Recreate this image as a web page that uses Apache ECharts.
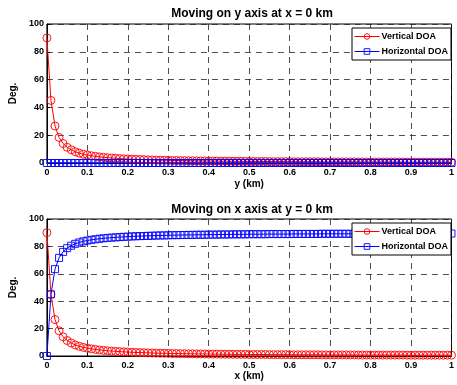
<!DOCTYPE html>
<html>
<head>
<meta charset="utf-8">
<script src="https://cdn.jsdelivr.net/npm/echarts@6/dist/echarts.min.js"></script>
<style>
  html, body { margin: 0; padding: 0; background: #fff; }
  #main { width: 457px; height: 385px; }
</style>
</head>
<body>
<div id="main"></div>
<script>
// position along the axis, km (0 .. 1 every 0.01)
var xs = [
  0, 0.01, 0.02, 0.03, 0.04, 0.05, 0.06, 0.07, 0.08, 0.09,
  0.10, 0.11, 0.12, 0.13, 0.14, 0.15, 0.16, 0.17, 0.18, 0.19,
  0.20, 0.21, 0.22, 0.23, 0.24, 0.25, 0.26, 0.27, 0.28, 0.29,
  0.30, 0.31, 0.32, 0.33, 0.34, 0.35, 0.36, 0.37, 0.38, 0.39,
  0.40, 0.41, 0.42, 0.43, 0.44, 0.45, 0.46, 0.47, 0.48, 0.49,
  0.50, 0.51, 0.52, 0.53, 0.54, 0.55, 0.56, 0.57, 0.58, 0.59,
  0.60, 0.61, 0.62, 0.63, 0.64, 0.65, 0.66, 0.67, 0.68, 0.69,
  0.70, 0.71, 0.72, 0.73, 0.74, 0.75, 0.76, 0.77, 0.78, 0.79,
  0.80, 0.81, 0.82, 0.83, 0.84, 0.85, 0.86, 0.87, 0.88, 0.89,
  0.90, 0.91, 0.92, 0.93, 0.94, 0.95, 0.96, 0.97, 0.98, 0.99, 1.00
];

// vertical DOA (deg), same curve on both plots
var vertDoa = [
  90, 45, 26.6, 18.4, 14.0, 11.3, 9.5, 8.1, 7.1, 6.3,
  5.7, 5.2, 4.8, 4.4, 4.1, 3.8, 3.6, 3.4, 3.2, 3.0,
  2.9, 2.7, 2.6, 2.5, 2.4, 2.3, 2.2, 2.1, 2.0, 2.0,
  1.9, 1.8, 1.8, 1.7, 1.7, 1.6, 1.6, 1.5, 1.5, 1.5,
  1.4, 1.4, 1.4, 1.3, 1.3, 1.3, 1.2, 1.2, 1.2, 1.2,
  1.1, 1.1, 1.1, 1.1, 1.1, 1.0, 1.0, 1.0, 1.0, 1.0,
  1.0, 0.9, 0.9, 0.9, 0.9, 0.9, 0.9, 0.9, 0.8, 0.8,
  0.8, 0.8, 0.8, 0.8, 0.8, 0.8, 0.8, 0.7, 0.7, 0.7,
  0.7, 0.7, 0.7, 0.7, 0.7, 0.7, 0.7, 0.7, 0.7, 0.6,
  0.6, 0.6, 0.6, 0.6, 0.6, 0.6, 0.6, 0.6, 0.6, 0.6, 0.6
];

// horizontal DOA moving on y axis: flat at 0
var horizDoaY = [
  0, 0, 0, 0, 0, 0, 0, 0, 0, 0,
  0, 0, 0, 0, 0, 0, 0, 0, 0, 0,
  0, 0, 0, 0, 0, 0, 0, 0, 0, 0,
  0, 0, 0, 0, 0, 0, 0, 0, 0, 0,
  0, 0, 0, 0, 0, 0, 0, 0, 0, 0,
  0, 0, 0, 0, 0, 0, 0, 0, 0, 0,
  0, 0, 0, 0, 0, 0, 0, 0, 0, 0,
  0, 0, 0, 0, 0, 0, 0, 0, 0, 0,
  0, 0, 0, 0, 0, 0, 0, 0, 0, 0,
  0, 0, 0, 0, 0, 0, 0, 0, 0, 0, 0
];

// horizontal DOA moving on x axis
var horizDoaX = [
  0, 45, 63.4, 71.6, 76.0, 78.7, 80.5, 81.9, 82.9, 83.7,
  84.3, 84.8, 85.2, 85.6, 85.9, 86.2, 86.4, 86.6, 86.8, 87.0,
  87.1, 87.3, 87.4, 87.5, 87.6, 87.7, 87.8, 87.9, 88.0, 88.0,
  88.1, 88.2, 88.2, 88.3, 88.3, 88.4, 88.4, 88.5, 88.5, 88.5,
  88.6, 88.6, 88.6, 88.7, 88.7, 88.7, 88.8, 88.8, 88.8, 88.8,
  88.9, 88.9, 88.9, 88.9, 88.9, 89.0, 89.0, 89.0, 89.0, 89.0,
  89.0, 89.1, 89.1, 89.1, 89.1, 89.1, 89.1, 89.1, 89.2, 89.2,
  89.2, 89.2, 89.2, 89.2, 89.2, 89.2, 89.2, 89.3, 89.3, 89.3,
  89.3, 89.3, 89.3, 89.3, 89.3, 89.3, 89.3, 89.3, 89.3, 89.4,
  89.4, 89.4, 89.4, 89.4, 89.4, 89.4, 89.4, 89.4, 89.4, 89.4, 89.4
];

var titles = ['Moving on y axis at x = 0 km', 'Moving on x axis at y = 0 km'];
var xNames = ['y (km)', 'x (km)'];
var seriesNames = ['Vertical DOA', 'Horizontal DOA'];

function pairs(ys) {
  return xs.map(function (x, i) { return [x, ys[i]]; });
}

var chart = echarts.init(document.getElementById('main'));

var font = 'Liberation Sans, Arial, Helvetica, sans-serif';
var dashed = { type: [6, 5], color: '#222', width: 0.8 };

function makeX(i) {
  return {
    gridIndex: i,
    type: 'value',
    min: 0, max: 1, interval: 0.1,
    name: xNames[i],
    nameLocation: 'middle',
    nameGap: i === 0 ? 16 : 14,
    nameTextStyle: { fontFamily: font, fontWeight: 'bold', fontSize: 10, color: '#000' },
    axisLine: { show: true, onZero: false, lineStyle: { color: '#000', width: 1 } },
    axisTick: { show: true, inside: true, length: 3, lineStyle: { color: '#000' } },
    axisLabel: { fontFamily: font, fontWeight: 'bold', fontSize: 9, color: '#000', margin: 5 },
    splitLine: { show: true, lineStyle: dashed }
  };
}

function makeY(i) {
  return {
    gridIndex: i,
    type: 'value',
    min: 0, max: 100, interval: 20,
    name: 'Deg.',
    nameLocation: 'middle',
    nameGap: 20,
    nameRotate: 90,
    nameTextStyle: { fontFamily: font, fontWeight: 'bold', fontSize: 10, color: '#000' },
    axisLine: { show: true, onZero: false, lineStyle: { color: '#000', width: 1 } },
    axisTick: { show: true, inside: true, length: 3, lineStyle: { color: '#000' } },
    axisLabel: { fontFamily: font, fontWeight: 'bold', fontSize: 9, color: '#000', margin: 3 },
    splitLine: { show: true, lineStyle: dashed }
  };
}

function makeLegend(top) {
  return {
    orient: 'vertical',
    left: 352,
    top: top,
    data: seriesNames,
    itemWidth: 25,
    itemHeight: 7,
    itemGap: 6,
    padding: [4, 3, 4, 2],
    backgroundColor: '#fff',
    borderColor: '#000',
    borderWidth: 1,
    borderRadius: 0,
    selectedMode: false,
    lineStyle: { width: 1 },
    itemStyle: { borderWidth: 0.9 },
    textStyle: { fontFamily: font, fontWeight: 'bold', fontSize: 9, color: '#000', padding: [0, 0, 0, -3] },
    z: 10
  };
}

function lineSeries(name, color, symbol, size, ys, idx) {
  return {
    name: name,
    type: 'line',
    xAxisIndex: idx,
    yAxisIndex: idx,
    data: pairs(ys),
    symbol: symbol,
    symbolSize: size,
    showAllSymbol: true,
    clip: false,
    lineStyle: { color: color, width: 1 },
    itemStyle: { color: 'rgba(255,255,255,0)', borderColor: color, borderWidth: 0.9 },
    emphasis: { disabled: true },
    animation: false
  };
}

var option = {
  animation: false,
  backgroundColor: '#fff',
  title: [
    { text: titles[0], left: 247, top: 3, textAlign: 'center',
      textStyle: { fontFamily: font, fontWeight: 'bold', fontSize: 12, color: '#000' } },
    { text: titles[1], left: 247, top: 199, textAlign: 'center',
      textStyle: { fontFamily: font, fontWeight: 'bold', fontSize: 12, color: '#000' } }
  ],
  legend: [makeLegend(28), makeLegend(223)],
  grid: [
    { left: 38, top: 24, width: 418, height: 139, show: true, borderColor: '#000', borderWidth: 1, backgroundColor: '#fff' },
    { left: 38, top: 219, width: 418, height: 137, show: true, borderColor: '#000', borderWidth: 1, backgroundColor: '#fff' }
  ],
  xAxis: [makeX(0), makeX(1)],
  yAxis: [makeY(0), makeY(1)],
  series: [
    lineSeries(seriesNames[0], '#ff0000', 'circle', 8, vertDoa, 0),
    lineSeries(seriesNames[1], '#0000ff', 'rect', 7, horizDoaY, 0),
    lineSeries(seriesNames[0], '#ff0000', 'circle', 8, vertDoa, 1),
    lineSeries(seriesNames[1], '#0000ff', 'rect', 7, horizDoaX, 1)
  ]
};

chart.setOption(option);
</script>
</body>
</html>
